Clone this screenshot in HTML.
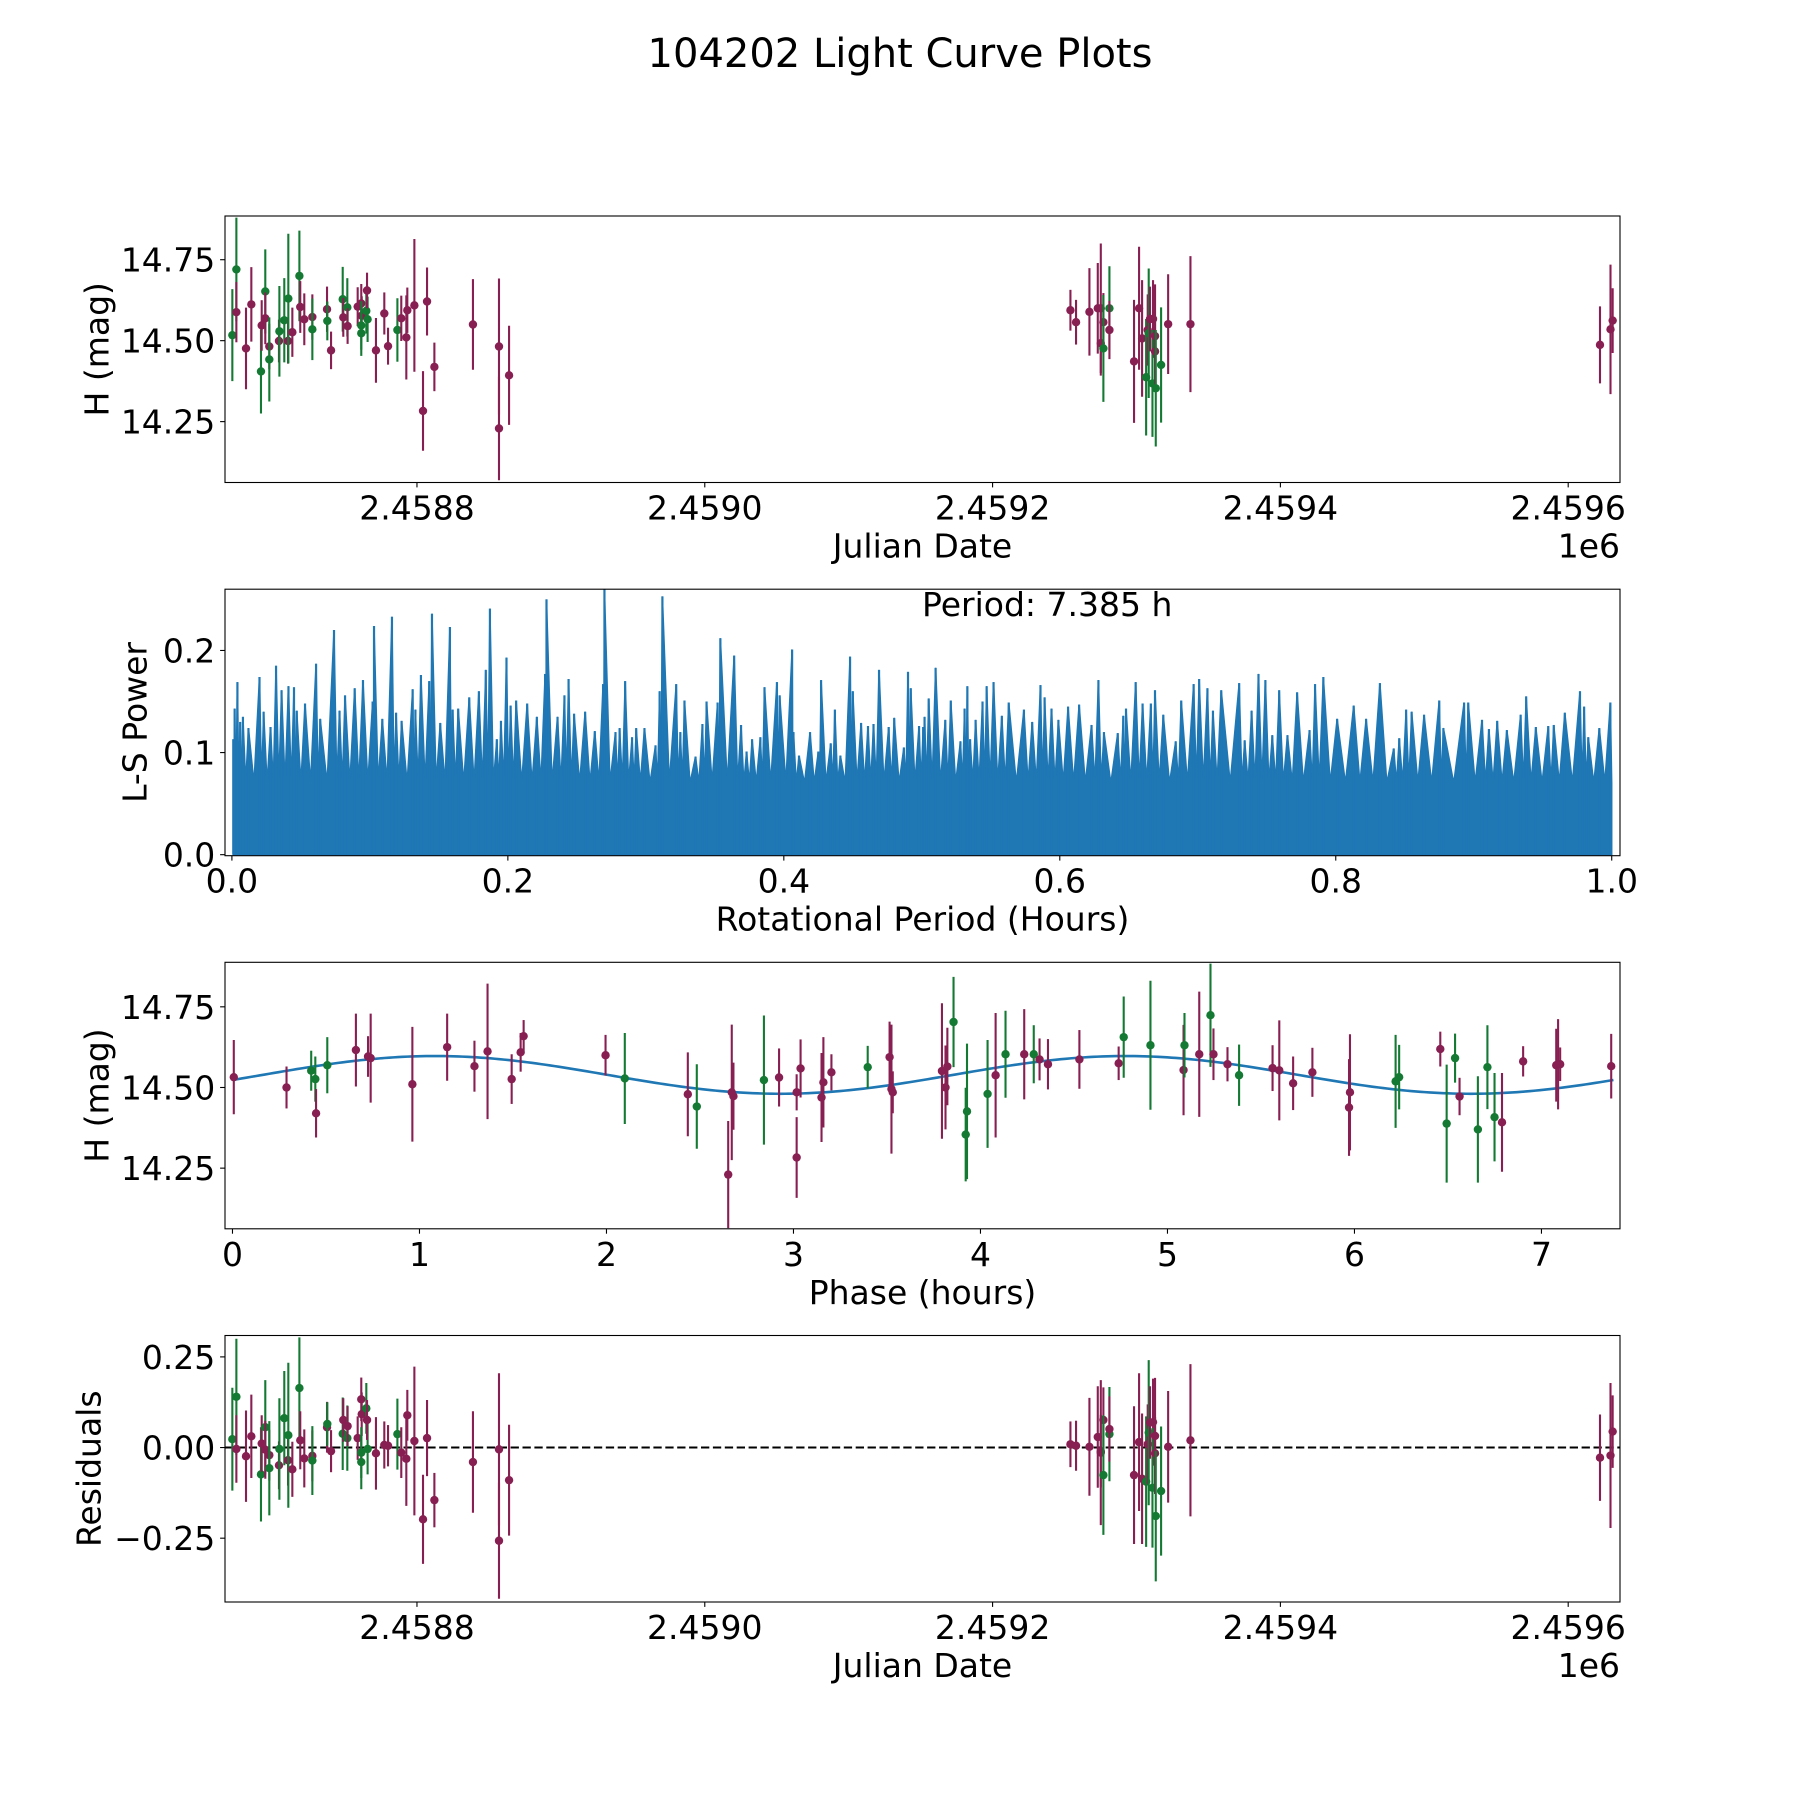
<!DOCTYPE html>
<html><head><meta charset="utf-8"><title>104202 Light Curve Plots</title>
<style>
html,body{margin:0;padding:0;background:#fff;}
svg{display:block;font-family:"DejaVu Sans","Liberation Sans",sans-serif;}
</style></head>
<body>
<svg id="fig" width="1800" height="1800" viewBox="0 0 1800 1800" xmlns="http://www.w3.org/2000/svg">
<rect width="1800" height="1800" fill="#fff"/>
<text x="900" y="67" font-size="40" text-anchor="middle">104202 Light Curve Plots</text>
</svg>
<script>
// ---------- Light curve data (panel 1 & residuals) ----------
const jd = [2458671.7,2458674.5,2458674.5,2458681.2,2458684.9,2458691.6,2458692.1,2458694.6,2458694.6,2458697.4,2458697.4,2458704.1,2458704.4,2458707.8,2458710.4,2458710.6,2458713.4,2458718.3,2458718.9,2458721.7,2458727.3,2458727.3,2458737.5,2458737.7,2458740.3,2458748.4,2458748.8,2458751.6,2458751.8,2458758.8,2458761.3,2458761.6,2458761.3,2458761.3,2458764.8,2458765.7,2458765.3,2458771.5,2458777.3,2458779.9,2458786.4,2458789.1,2458792.6,2458793.3,2458798.2,2458804.2,2458807.0,2458812.1,2458838.9,2458857.0,2458857.0,2458864.0,
2459254.1,2459258.0,2459267.3,2459273.1,2459275.2,2459277.0,2459275.2,2459277.0,2459281.2,2459281.2,2459298.3,2459301.8,2459303.9,2459306.7,2459307.8,2459308.5,2459309.4,2459311.5,2459311.1,2459312.9,2459312.9,2459313.4,2459317.1,2459322.0,2459337.5,
2459622.1,2459629.4,2459630.9];
const mag = [14.517,14.72,14.588,14.476,14.612,14.405,14.547,14.652,14.569,14.482,14.442,14.499,14.529,14.563,14.499,14.63,14.526,14.70,14.604,14.566,14.573,14.535,14.597,14.561,14.47,14.628,14.572,14.603,14.545,14.605,14.615,14.577,14.547,14.523,14.592,14.566,14.655,14.47,14.584,14.483,14.533,14.569,14.51,14.594,14.609,14.283,14.621,14.419,14.55,14.482,14.229,14.393,
14.594,14.557,14.589,14.60,14.60,14.557,14.492,14.476,14.60,14.533,14.436,14.60,14.507,14.387,14.533,14.523,14.567,14.567,14.368,14.514,14.467,14.353,14.425,14.551,14.551,
14.487,14.535,14.562];
const magErr = [.142,.16,.093,.126,.115,.13,.078,.13,.08,.07,.13,.066,.14,.13,.07,.2,.076,.14,.08,.08,.07,.095,.07,.06,.058,.1,.06,.09,.055,.06,.06,.06,.075,.07,.07,.07,.055,.1,.065,.057,.098,.07,.13,.07,.205,.123,.105,.075,.14,.21,.16,.153,
.063,.069,.135,.14,.2,.09,.1,.165,.13,.09,.19,.19,.18,.18,.11,.2,.1,.12,.165,.16,.1,.18,.178,.154,.21,
.119,.2,.1];
const band = ['g','g','m','m','m','g','m','g','m','m','g','m','g','g','m','g','m','g','m','m','m','g','m','g','m','g','m','g','m','m','m','m','g','g','g','g','m','m','m','m','g','m','m','m','m','m','m','m','m','m','m','m',
'm','m','m','m','m','m','m','g','g','m','m','m','m','g','m','g','m','m','g','m','m','g','g','m','m',
'm','m','m'];
const resid = [.023,.14,-.004,-.024,.031,-.074,.011,.056,-.006,-.021,-.057,-.049,-.004,.081,-.035,.034,-.06,.164,.02,-.03,-.023,-.036,.056,.065,-.01,.038,.076,.026,.059,.026,.133,.092,-.04,-.014,.108,-.004,.076,-.016,.007,.005,.037,-.014,-.031,.089,.018,-.198,.026,-.145,-.04,-.005,-.257,-.09,
.009,.005,.002,.029,-.014,.076,-.01,-.076,.037,.051,-.076,.015,-.086,-.094,.009,.041,.069,.07,-.111,.032,-.016,-.189,-.12,.002,.02,
-.028,-.022,.044];

// ---------- Phase-folded data (panel 3) ----------
const phase = [0.007,0.289,0.421,0.443,0.447,0.507,0.66,0.725,0.739,0.962,1.148,1.294,1.364,1.493,1.541,1.557,1.995,2.098,2.435,2.483,2.651,2.67,2.679,2.842,2.923,3.017,3.017,3.038,3.15,3.16,3.203,3.397,3.514,3.524,3.531,
3.794,3.813,3.823,3.856,3.921,3.928,4.038,4.081,4.134,4.234,4.285,4.316,4.361,4.529,4.739,4.766,4.909,5.086,5.091,5.17,5.23,5.246,5.321,5.383,5.562,5.598,5.672,5.775,5.971,5.976,6.22,6.239,6.459,6.493,6.538,6.562,6.66,6.711,6.749,6.789,6.902,7.079,7.089,7.1,7.373];
const phaseMag = [14.532,14.50,14.552,14.526,14.42,14.569,14.616,14.596,14.591,14.51,14.625,14.566,14.612,14.526,14.609,14.659,14.60,14.528,14.479,14.441,14.23,14.485,14.473,14.523,14.531,14.485,14.283,14.559,14.469,14.516,14.547,14.563,14.594,14.495,14.485,
14.551,14.5,14.565,14.703,14.354,14.426,14.48,14.538,14.603,14.603,14.603,14.587,14.572,14.587,14.575,14.656,14.631,14.554,14.631,14.603,14.724,14.603,14.572,14.538,14.56,14.553,14.513,14.547,14.438,14.485,14.519,14.532,14.619,14.388,14.591,14.472,14.37,14.563,14.408,14.392,14.581,14.569,14.572,14.572,14.566];
const phaseErr = [.115,.065,.062,.07,.075,.087,.113,.063,.138,.178,.104,.079,.21,.077,.06,.05,.063,.141,.13,.131,.166,.21,.104,.2,.09,.056,.125,.09,.138,.14,.056,.066,.11,.2,.065,
.21,.13,.12,.14,.145,.21,.167,.193,.135,.14,.09,.065,.078,.091,.052,.126,.2,.14,.1,.194,.16,.08,.053,.095,.071,.155,.083,.076,.15,.18,.144,.1,.054,.183,.076,.058,.165,.13,.137,.153,.047,.113,.14,.052,.1];
const phaseBand = ['m','m','g','g','m','g','m','m','m','m','m','m','m','m','m','m','m','g','m','g','m','m','m','g','m','m','m','m','m','m','m','g','m','m','m',
'm','m','m','g','g','g','g','m','g','m','g','m','m','m','m','g','g','m','g','m','g','m','m','g','m','m','m','m','m','m','g','g','m','g','g','m','g','g','g','m','m','m','m','m','m'];
// fitted model (2-harmonic of 7.385 h period)
const fitPeriod = 7.385, fitMean = 14.539, fitAmp = 0.0585, fitPeak = 1.084;

// ---------- Lomb-Scargle periodogram peaks (panel 2) ----------
const lsPeriod = [0.001,0.002,0.004,0.006,0.008,0.012,0.020,0.023,0.028,0.032,0.036,0.041,0.045,0.047,0.053,0.061,0.064,0.074,0.078,0.082,0.089,0.095,0.102,0.103,0.109,0.116,0.119,0.123,0.131,0.133,0.137,0.143,0.145,0.151,0.158,0.160,0.164,0.172,0.179,0.184,0.187,0.192,0.195,0.199,0.202,0.206,0.214,0.221,0.227,0.228,0.236,0.241,0.244,0.248,0.256,0.263,0.269,0.270,0.278,0.281,0.285,0.290,0.293,0.299,0.307,0.310,0.312,0.322,0.325,0.328,0.336,0.341,0.344,0.352,0.354,0.364,0.369,0.373,0.377,0.383,0.386,0.395,0.397,0.406,0.407,0.411,0.419,0.425,0.427,0.434,0.437,0.441,0.448,0.450,0.456,0.461,0.465,0.469,0.476,0.480,0.487,0.490,0.492,0.498,
0.501,0.502,0.505,0.510,0.517,0.521,0.528,0.531,0.533,0.535,0.539,0.544,0.547,0.552,0.558,0.563,0.574,0.580,0.586,0.589,0.594,0.599,0.606,0.614,0.623,0.628,0.632,0.642,0.646,0.648,0.655,0.660,0.666,0.669,0.675,0.684,0.688,0.697,0.701,0.707,0.711,0.717,0.730,0.734,0.739,0.744,0.749,0.754,0.759,0.765,0.772,0.781,0.785,0.791,0.801,0.813,0.822,0.832,0.842,0.846,0.851,0.855,0.864,0.875,0.878,0.893,0.896,0.906,0.911,0.917,0.924,0.934,0.938,0.945,0.954,0.958,0.966,0.977,0.980,0.983,0.991,0.999];
const lsPower = [0.113,0.143,0.169,0.130,0.135,0.124,0.174,0.140,0.125,0.185,0.161,0.165,0.164,0.141,0.148,0.187,0.133,0.220,0.141,0.156,0.163,0.171,0.150,0.224,0.133,0.233,0.139,0.131,0.162,0.142,0.176,0.170,0.236,0.129,0.223,0.142,0.143,0.154,0.160,0.181,0.241,0.113,0.131,0.193,0.146,0.151,0.148,0.135,0.177,0.250,0.135,0.156,0.172,0.138,0.140,0.121,0.167,0.260,0.120,0.124,0.170,0.115,0.124,0.124,0.107,0.160,0.253,0.167,0.120,0.151,0.096,0.128,0.150,0.149,0.212,0.195,0.127,0.101,0.113,0.115,0.164,0.169,0.156,0.201,0.120,0.097,0.120,0.101,0.171,0.109,0.142,0.097,0.194,0.160,0.129,0.126,0.128,0.181,0.125,0.134,0.105,0.179,0.163,0.126,
0.125,0.135,0.153,0.183,0.132,0.151,0.111,0.143,0.165,0.113,0.132,0.150,0.165,0.169,0.136,0.149,0.142,0.130,0.166,0.154,0.143,0.132,0.145,0.147,0.127,0.171,0.120,0.119,0.136,0.143,0.169,0.148,0.148,0.161,0.137,0.111,0.151,0.167,0.172,0.163,0.141,0.161,0.168,0.112,0.141,0.177,0.171,0.117,0.161,0.117,0.159,0.122,0.167,0.174,0.133,0.146,0.133,0.168,0.104,0.114,0.142,0.140,0.137,0.151,0.124,0.149,0.149,0.132,0.123,0.131,0.122,0.137,0.155,0.125,0.126,0.127,0.139,0.160,0.145,0.115,0.124,0.149];

// ---------- tick labels ----------
const jdTicks = [2458800,2459000,2459200,2459400,2459600];
const jdTickLabels = ['2.4588','2.4590','2.4592','2.4594','2.4596'];
const magTicks = [14.25,14.50,14.75];
const magTickLabels = ['14.25','14.50','14.75'];
const lsXTicks = [0,0.2,0.4,0.6,0.8,1.0];
const lsXTickLabels = ['0.0','0.2','0.4','0.6','0.8','1.0'];
const lsYTicks = [0,0.1,0.2];
const lsYTickLabels = ['0.0','0.1','0.2'];
const phTicks = [0,1,2,3,4,5,6,7];
const phTickLabels = ['0','1','2','3','4','5','6','7'];
const resTicks = [-0.25,0,0.25];
const resTickLabels = ['\u22120.25','0.00','0.25'];

const NS='http://www.w3.org/2000/svg';
const svg=document.getElementById('fig');
const COL={m:'#881f52',g:'#147a33'};
const FS=33;
function el(tag,attrs,parent){const e=document.createElementNS(NS,tag);for(const k in attrs)e.setAttribute(k,attrs[k]);(parent||svg).appendChild(e);return e;}
function lin(d0,d1,p0,p1){return v=>p0+(v-d0)/(d1-d0)*(p1-p0);}

const L=225,R=1620,H=266.5;
const tops=[216,589.2,962.3,1335.5];

function makeAxes(i,name,xlim,ylim,xt,xtl,yt,ytl,xlabel,ylabel,ylabelX,offsetText){
  const top=tops[i],bot=top+H;
  const g=el('g',{});
  
  
  const clip=el('clipPath',{id:'clip'+i},g);
  el('rect',{x:L,y:top,width:R-L,height:H},clip);
  const X=lin(xlim[0],xlim[1],L,R), Y=lin(ylim[0],ylim[1],bot,top);
  const plot=el('g',{'clip-path':'url(#clip'+i+')'},g);
  
  
  // ticks
  const xg=el('g',{},g);
  
  
  xt.forEach((v,k)=>{const x=X(v);
    el('line',{x1:x,x2:x,y1:bot,y2:bot+4.9,stroke:'#000','stroke-width':1.1},xg);
    const t=el('text',{x:x,y:bot+37,'font-size':FS,'text-anchor':'middle'},xg);t.textContent=xtl[k];
    
    
  });
  const yg=el('g',{},g);
  
  
  yt.forEach((v,k)=>{const y=Y(v);
    el('line',{x1:L-4.9,x2:L,y1:y,y2:y,stroke:'#000','stroke-width':1.1},yg);
    const t=el('text',{x:L-9.7,y:y+12,'font-size':FS,'text-anchor':'end'},yg);t.textContent=ytl[k];
    
    
  });
  const xl=el('text',{x:(L+R)/2,y:bot+75,'font-size':FS,'text-anchor':'middle'},g);xl.textContent=xlabel;
  
  
  const cy=(top+bot)/2;
  const yl=el('text',{x:ylabelX,y:cy,'font-size':FS,'text-anchor':'middle','dominant-baseline':'central',transform:'rotate(-90 '+ylabelX+' '+cy+')'},g);yl.textContent=ylabel;
  
  
  if(offsetText){const o=el('text',{x:R,y:bot+75,'font-size':FS,'text-anchor':'end'},g);o.textContent=offsetText;
    
    }
  return {g,plot,X,Y,top,bot};
}
function frame(ax){el('rect',{x:L,y:ax.top,width:R-L,height:H,fill:'none',stroke:'#000','stroke-width':1.1},ax.g);}
function errPoints(ax,xs,ys,es,cs,label){
  xs.forEach((xv,k)=>{const x=ax.X(xv),y=ax.Y(ys[k]);
    const p=el('g',{},ax.plot);
    
    
    el('line',{x1:x,x2:x,y1:ax.Y(ys[k]-es[k]),y2:ax.Y(ys[k]+es[k]),stroke:COL[cs[k]],'stroke-width':2.1},p);
    el('circle',{cx:x,cy:y,r:4.2,fill:COL[cs[k]]},p);
  });
}

// Panel 1
const a1=makeAxes(0,'light-curve-panel',[2458666.6,2459636],[14.062,14.885],jdTicks,jdTickLabels,magTicks,magTickLabels,'Julian Date','H (mag)',97,'1e6');
errPoints(a1,jd,mag,magErr,band,'data-point');
frame(a1);

// Panel 2
const a2=makeAxes(1,'periodogram-panel',[-0.005,1.006],[-0.001,0.26],lsXTicks,lsXTickLabels,lsYTicks,lsYTickLabels,'Rotational Period (Hours)','L-S Power',135,null);
(function(){
  const valley=0.07;
  let d='M'+a2.X(lsPeriod[0])+','+a2.Y(0);
  lsPeriod.forEach((p,k)=>{
    d+=' L'+a2.X(p)+','+a2.Y(lsPower[k]);
    const nx=k<lsPeriod.length-1?(p+lsPeriod[k+1])/2:p+0.001;
    d+=' L'+a2.X(nx)+','+a2.Y(valley);
  });
  d+=' L'+a2.X(1.0)+','+a2.Y(valley)+' L'+a2.X(1.0)+','+a2.Y(0)+' Z';
  const area=el('path',{d:d,fill:'#1f77b4',stroke:'#1f77b4','stroke-width':1.5,'stroke-linejoin':'miter'},a2.plot);
  
  
  el('rect',{x:a2.X(0.0005),y:a2.Y(0.075),width:a2.X(1.0)-a2.X(0.0005),height:a2.Y(0)-a2.Y(0.075),fill:'#1f77b4'},a2.plot);
  lsPeriod.forEach((p,k)=>{
    const s=el('line',{x1:a2.X(p),x2:a2.X(p),y1:a2.Y(0),y2:a2.Y(lsPower[k]),stroke:'#1f77b4','stroke-width':2.2},a2.plot);
    
    
  });
})();
const pt=el('text',{x:922,y:616,'font-size':FS},a2.g);pt.textContent='Period: 7.385 h';


frame(a2);

// Panel 3
const a3=makeAxes(2,'phase-fold-panel',[-0.04,7.42],[14.062,14.888],phTicks,phTickLabels,magTicks,magTickLabels,'Phase (hours)','H (mag)',97,null);
(function(){
  let d='';
  for(let t=0;t<=fitPeriod+1e-9;t+=fitPeriod/300){
    const m=fitMean+fitAmp*Math.cos(2*Math.PI*(t-fitPeak)/(fitPeriod/2));
    d+=(d?' L':'M')+a3.X(t)+','+a3.Y(m);
  }
  const c=el('path',{d:d,fill:'none',stroke:'#1f77b4','stroke-width':2.6},a3.plot);
  
  
})();
errPoints(a3,phase,phaseMag,phaseErr,phaseBand,'phased-point');
frame(a3);

// Panel 4
const a4=makeAxes(3,'residuals-panel',[2458666.6,2459636],[-0.426,0.309],jdTicks,jdTickLabels,resTicks,resTickLabels,'Julian Date','Residuals',89,'1e6');
const zl=el('line',{x1:L,x2:R,y1:a4.Y(0),y2:a4.Y(0),stroke:'#000','stroke-width':2,'stroke-dasharray':'8.3,3.6'},a4.plot);


errPoints(a4,jd,resid,magErr,band,'residual-point');
frame(a4);
</script>
</body></html>
